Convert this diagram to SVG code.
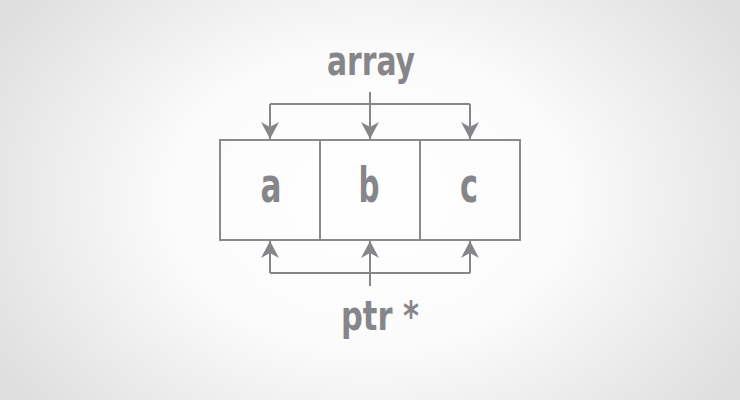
<svg xmlns="http://www.w3.org/2000/svg" width="740" height="400" viewBox="0 0 740 400">
<defs>
<radialGradient id="bg" cx="370" cy="200" r="440" gradientUnits="userSpaceOnUse" gradientTransform="translate(370 200) scale(1 0.75) translate(-370 -200)">
<stop offset="0" stop-color="#ffffff"/>
<stop offset="0.45" stop-color="#fbfbfb"/>
<stop offset="1" stop-color="#dedede"/>
</radialGradient>
<marker id="arr" markerUnits="userSpaceOnUse" markerWidth="18" markerHeight="18" refX="17" refY="9" orient="auto" viewBox="0 0 18 18">
<path d="M17,9 L0,0 L5,9 L0,18 Z" fill="#86868a"/>
</marker>
<style>
.ln{fill:none;stroke:#86868a;stroke-width:2}
.cell{fill:none;stroke:#8a8a8e;stroke-width:2}
.lbl{font-family:"DejaVu Sans",sans-serif;font-stretch:condensed;font-weight:bold;fill:#86868a;text-anchor:middle}
</style>
</defs>
<rect width="740" height="400" fill="url(#bg)"/>
<g id="array-label"><text class="lbl" x="371" y="75" font-size="41" textLength="88" lengthAdjust="spacingAndGlyphs">array</text></g>
<g id="ptr-label"><text class="lbl" x="380" y="330" font-size="41" textLength="78" lengthAdjust="spacingAndGlyphs">ptr *</text></g>
<g id="cell-a"><rect class="cell" x="220" y="140" width="100" height="100"/><text class="lbl" x="271" y="202" font-size="48" textLength="21" lengthAdjust="spacingAndGlyphs">a</text></g>
<g id="cell-b"><rect class="cell" x="320" y="140" width="100" height="100"/><text class="lbl" x="369" y="202" font-size="48" textLength="21" lengthAdjust="spacingAndGlyphs">b</text></g>
<g id="cell-c"><rect class="cell" x="420" y="140" width="100" height="100"/><text class="lbl" x="469" y="202" font-size="48" textLength="18" lengthAdjust="spacingAndGlyphs">c</text></g>
<g id="connectors">
<path class="ln" d="M370,92 V104"/>
<path class="ln" d="M270,104 H470"/>
<path class="ln" d="M270,104 V139" marker-end="url(#arr)"/>
<path class="ln" d="M370,104 V139" marker-end="url(#arr)"/>
<path class="ln" d="M470,104 V139" marker-end="url(#arr)"/>
<path class="ln" d="M370,286 V273"/>
<path class="ln" d="M270,273 H470"/>
<path class="ln" d="M270,273 V241" marker-end="url(#arr)"/>
<path class="ln" d="M370,273 V241" marker-end="url(#arr)"/>
<path class="ln" d="M470,273 V241" marker-end="url(#arr)"/>
</g>
</svg>
